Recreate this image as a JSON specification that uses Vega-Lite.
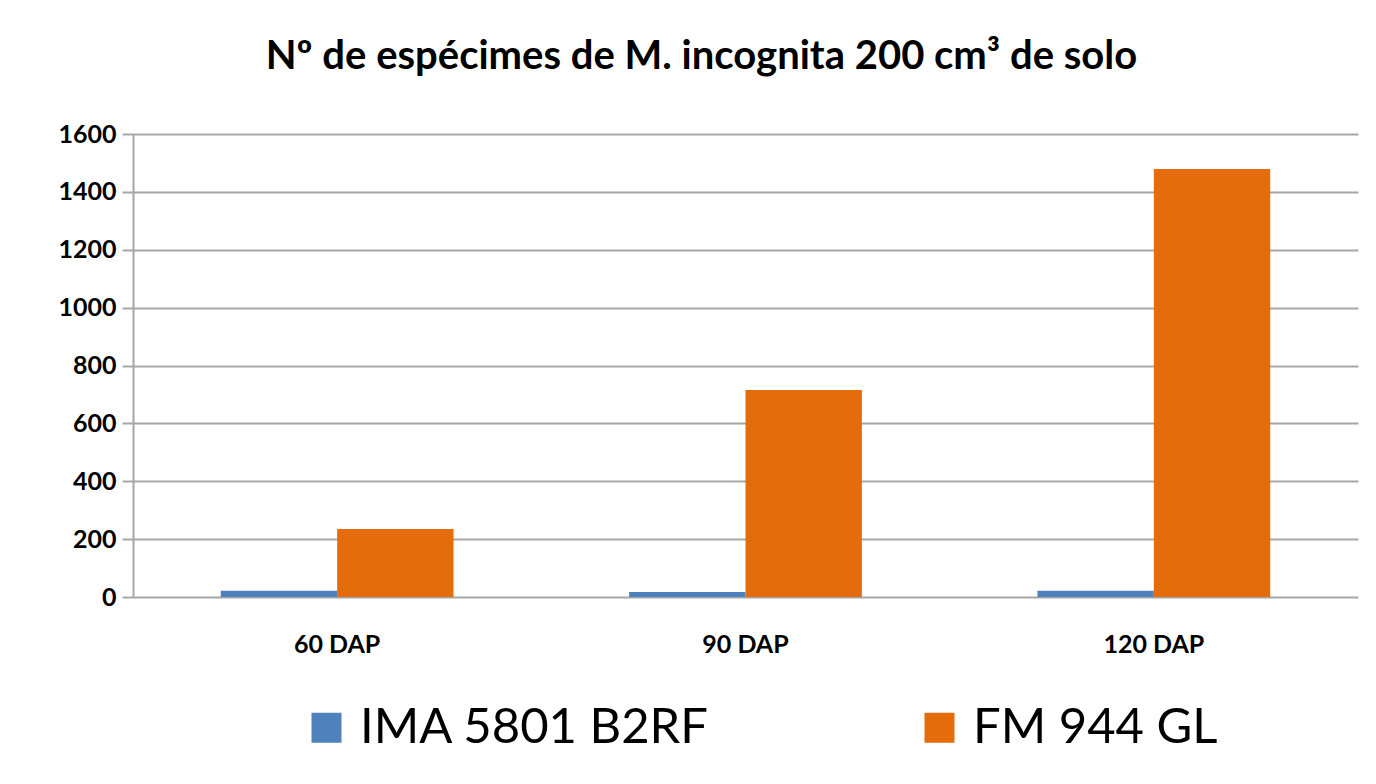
{
  "$schema": "https://vega.github.io/schema/vega-lite/v6.json",
  "width": 1225,
  "height": 463,
  "autosize": "none",
  "padding": {"left": 133, "top": 134, "right": 18, "bottom": 187},
  "background": "white",
  "title": {
    "text": "Nº de espécimes de M. incognita 200 cm³ de solo",
    "font": "Lato",
    "fontSize": 40,
    "fontWeight": "bold",
    "color": "black",
    "offset": 45,
    "dx": -44
  },
  "data": {
    "values": [
      {"dap": "60 DAP", "cultivar": "IMA 5801 B2RF", "n": 22},
      {"dap": "60 DAP", "cultivar": "FM 944 GL", "n": 235},
      {"dap": "90 DAP", "cultivar": "IMA 5801 B2RF", "n": 17},
      {"dap": "90 DAP", "cultivar": "FM 944 GL", "n": 715},
      {"dap": "120 DAP", "cultivar": "IMA 5801 B2RF", "n": 22},
      {"dap": "120 DAP", "cultivar": "FM 944 GL", "n": 1479}
    ]
  },
  "mark": {"type": "bar"},
  "encoding": {
    "x": {
      "field": "dap",
      "type": "nominal",
      "sort": ["60 DAP", "90 DAP", "120 DAP"],
      "scale": {"paddingInner": 0.43, "paddingOuter": 0.215},
      "axis": {
        "title": null,
        "labelAngle": 0,
        "labelFont": "Lato",
        "labelFontSize": 25,
        "labelFontWeight": "bold",
        "labelColor": "black",
        "labelPadding": 35,
        "ticks": false,
        "domain": false
      }
    },
    "xOffset": {
      "field": "cultivar",
      "type": "nominal",
      "sort": ["IMA 5801 B2RF", "FM 944 GL"],
      "scale": {"paddingInner": 0, "paddingOuter": 0}
    },
    "y": {
      "field": "n",
      "type": "quantitative",
      "scale": {"domain": [0, 1600]},
      "axis": {
        "title": null,
        "format": "d",
        "values": [0, 200, 400, 600, 800, 1000, 1200, 1400, 1600],
        "labelFont": "Lato",
        "labelFontSize": 25,
        "labelFontWeight": "bold",
        "labelColor": "black",
        "labelPadding": 6,
        "tickSize": 11,
        "tickColor": "#a6a6a6",
        "tickWidth": 2,
        "domainColor": "#a6a6a6",
        "domainWidth": 2,
        "gridColor": "#a6a6a6",
        "gridWidth": 2
      }
    },
    "color": {
      "field": "cultivar",
      "type": "nominal",
      "sort": ["IMA 5801 B2RF", "FM 944 GL"],
      "scale": {"domain": ["IMA 5801 B2RF", "FM 944 GL"], "range": ["#4F81BD", "#E46C0A"]},
      "legend": {
        "title": null,
        "orient": "none",
        "direction": "horizontal",
        "legendX": 169,
        "legendY": 569,
        "symbolType": "square",
        "symbolSize": 900,
        "symbolStrokeWidth": 0,
        "labelFont": "Lato",
        "labelFontSize": 49,
        "labelColor": "black",
        "labelOffset": 9,
        "columnPadding": 205,
        "labelLimit": 600
      }
    }
  },
  "config": {"view": {"stroke": null}}
}
